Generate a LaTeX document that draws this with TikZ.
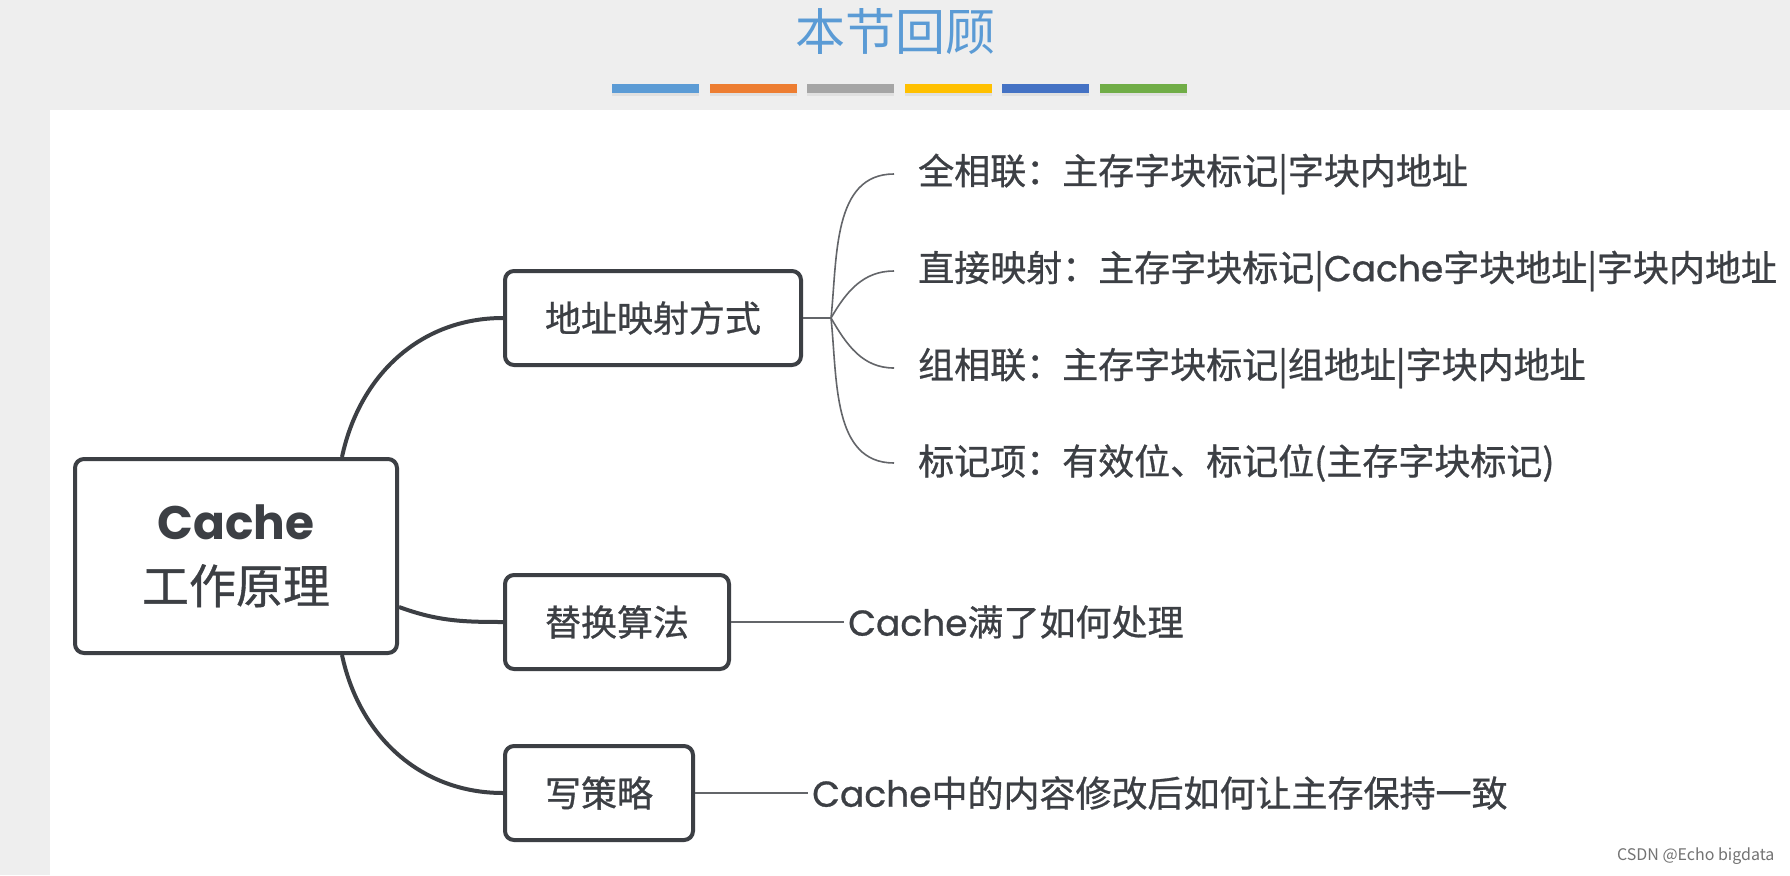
\documentclass[tikz,border=0pt]{standalone}
\usepackage{fontspec}
\setmainfont{Noto Sans CJK SC}
\newfontfamily\medfont{Noto Sans CJK SC}[FakeBold=0.8]
\newfontfamily\latin{Poppins}
\newfontfamily\latinmed{Poppins}[FakeBold=0.8]
\usetikzlibrary{positioning}
\usepackage{xcolor}
\definecolor{bggray}{RGB}{238,238,238}
\definecolor{inkgray}{RGB}{60,63,68}
\definecolor{titleblue}{RGB}{91,155,213}
\definecolor{barblue}{RGB}{91,155,213}
\definecolor{barorange}{RGB}{237,125,49}
\definecolor{bargray}{RGB}{165,165,165}
\definecolor{bargold}{RGB}{255,192,0}
\definecolor{bardeep}{RGB}{68,114,196}
\definecolor{bargreen}{RGB}{112,173,71}
\newcommand{\cachew}{{\latinmed Cache}}

\begin{document}
\begin{tikzpicture}[x=1pt, y=-1pt,
    box/.style={draw=inkgray, line width=4pt, rounded corners=9pt, fill=white, text=inkgray, minimum height=94pt, inner xsep=40pt, anchor=west, font=\medfont\fontsize{36}{40}\selectfont},
    leaf/.style={text=inkgray, inner xsep=4pt, anchor=west, font=\medfont\fontsize{36}{40}\selectfont},
    trunk/.style={draw=inkgray, line width=4pt},
    twig/.style={draw=inkgray!80, line width=1.6pt}
]
    \useasboundingbox (0,0) rectangle (1790,875);
    \fill[bggray] (0,0) rectangle (1790,875);
    \fill[white] (50,110) rectangle (1790,875);

    % title and colour bars
    \node[text=titleblue, font=\fontsize{50}{54}\selectfont] (title) at (895,32) {本节回顾};
    \foreach \c [count=\i from 0] in {barblue,barorange,bargray,bargold,bardeep,bargreen} {
        \fill[black!12] (612+97.5*\i,87) rectangle ++(87,9);
        \fill[\c] (612+97.5*\i,84) rectangle ++(87,9);
    }

    \node[draw=inkgray, line width=4pt, rounded corners=9pt, text=inkgray, minimum width=322pt, minimum height=194pt, align=center, font=\medfont\fontsize{47}{64}\selectfont] (root) at (236,556) {{\latin\bfseries Cache}\\工作原理};

    \node[box] (addr) at (503,318) {地址映射方式};
    \node[box] (repl) at (503,622) {替换算法};
    \node[box] (wpol) at (503,793) {写策略};

    \node[leaf] (full) at (914,174) {全相联：主存字块标记|字块内地址};
    \node[leaf] (direct) at (914,271) {直接映射：主存字块标记|\cachew 字块地址|字块内地址};
    \node[leaf] (setas) at (914,368) {组相联：主存字块标记|组地址|字块内地址};
    \node[leaf] (tag) at (914,463) {标记项：有效位、标记位(主存字块标记)};
    \node[leaf, right=113pt of repl] (full2) {\cachew 满了如何处理};
    \node[leaf, right=113pt of wpol] (sync) {\cachew 中的内容修改后如何让主存保持一致};

    \draw[trunk] ([xshift=106pt]root.north) to[out=78, in=180] (addr.west);
    \draw[trunk] ([yshift=-51pt]root.east) to[out=-20, in=180] (repl.west);
    \draw[trunk] ([xshift=106pt]root.south) to[out=-78, in=180] (wpol.west);

    \coordinate[right=28pt of addr] (fork);
    \draw[twig] (addr.east) -- (fork);
    \foreach \n/\o in {full/84, direct/60, setas/-60, tag/-84}
        \draw[twig] (fork) to[out=\o, in=180] ([xshift=-20pt]\n.west);
    \draw[twig] (repl.east) -- (full2.west);
    \draw[twig] (wpol.east) -- (sync.west);

    \node[anchor=east, text=black!55, font=\fontsize{16}{18}\selectfont] (mark) at (1778,856) {CSDN @Echo bigdata};
\end{tikzpicture}
\end{document}
